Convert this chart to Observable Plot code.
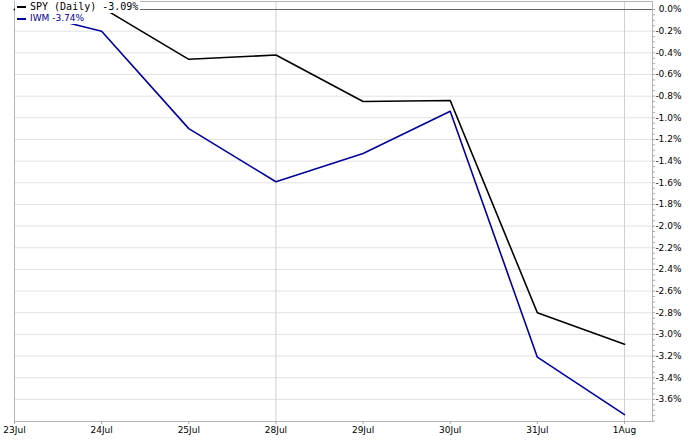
<!DOCTYPE html>
<html>
<head>
<meta charset="utf-8">
<script src="https://cdn.jsdelivr.net/npm/d3@7"></script>
<script src="https://cdn.jsdelivr.net/npm/@observablehq/plot@0.6"></script>
<style>
  body { margin: 0; background: #fff; }
  #wrap { position: relative; width: 694px; height: 440px; }
  #legend { position: absolute; left: 15px; top: 1px; }
  .row { display: table; background: #fff; white-space: pre; padding-right: 2px; }
  .dash { display: inline-block; width: 9px; height: 2px; margin: 0 4px 0 2px; vertical-align: middle; }
  .r1 { font: 10px "DejaVu Sans Mono", monospace; color: #000; line-height: 12px; }
  .r2 { font: 9px "DejaVu Sans", sans-serif; color: #00009c; line-height: 11px; }
</style>
</head>
<body>
<div id="wrap">
  <div id="legend"></div>
</div>
<script>
const dates = ["23Jul", "24Jul", "25Jul", "28Jul", "29Jul", "30Jul", "31Jul", "1Aug"];
const spy = [0, 0.02, -0.46, -0.42, -0.85, -0.84, -2.80, -3.09];
const iwm = [0, -0.20, -1.10, -1.59, -1.33, -0.94, -3.21, -3.74];
const seriesNames = ["SPY", "IWM"];
const seriesColors = ["#000000", "#00009c"];
const legendLabels = ["SPY (Daily) -3.09%", "IWM -3.74%"];
const yTicks = [0, -0.2, -0.4, -0.6, -0.8, -1.0, -1.2, -1.4, -1.6, -1.8, -2.0, -2.2, -2.4, -2.6, -2.8, -3.0, -3.2, -3.4, -3.6];
const yMinor = d3.range(0, -3.81, -0.05);
const xGrid = [3, 7];

const data = [];
dates.forEach((d, i) => {
  data.push({i, v: iwm[i], s: "IWM"});
});
dates.forEach((d, i) => {
  data.push({i, v: spy[i], s: "SPY"});
});

const chart = Plot.plot({
  width: 694,
  height: 440,
  marginLeft: 14,
  marginRight: 42,
  marginTop: 1,
  marginBottom: 19,
  style: {fontFamily: "DejaVu Sans, sans-serif", fontSize: "9px", color: "#000", background: "#fff"},
  x: {type: "linear", domain: [0, 7.3213]},
  y: {domain: [-3.804, 0.0739]},
  color: {domain: seriesNames, range: seriesColors},
  marks: [
    Plot.ruleY(yTicks.filter(t => t !== 0), {stroke: "#e2e2e2", strokeWidth: 1}),
    Plot.ruleX(xGrid, {stroke: "#d0d0d0", strokeWidth: 1}),
    Plot.ruleY([0], {stroke: "#666", strokeWidth: 1}),
    Plot.frame({stroke: "#b4b4b4"}),
    Plot.axisY({anchor: "right", ticks: yMinor, tickSize: 2, stroke: "#aaa", tickFormat: () => "", label: null}),
    Plot.axisY({anchor: "right", ticks: yTicks, tickSize: 0, tickPadding: 29, textAnchor: "end",
      tickFormat: d => (d === 0 ? "0.0" : d.toFixed(1)) + "%", label: null, fill: "#000"}),
    Plot.axisX({ticks: d3.range(0, 8), tickSize: 3, tickPadding: 2, stroke: "#aaa",
      tickFormat: i => dates[i], label: null, fill: "#000"}),
    Plot.line(data, {x: "i", y: "v", z: "s", stroke: "s", strokeWidth: 1.6})
  ]
});
document.getElementById("wrap").prepend(chart);

const legend = document.getElementById("legend");
legendLabels.forEach((t, k) => {
  const row = document.createElement("div");
  row.className = "row " + (k === 0 ? "r1" : "r2");
  const dash = document.createElement("span");
  dash.className = "dash";
  dash.style.background = seriesColors[seriesNames.indexOf(k === 0 ? "SPY" : "IWM")];
  row.appendChild(dash);
  row.appendChild(document.createTextNode(t));
  legend.appendChild(row);
});
</script>
</body>
</html>
